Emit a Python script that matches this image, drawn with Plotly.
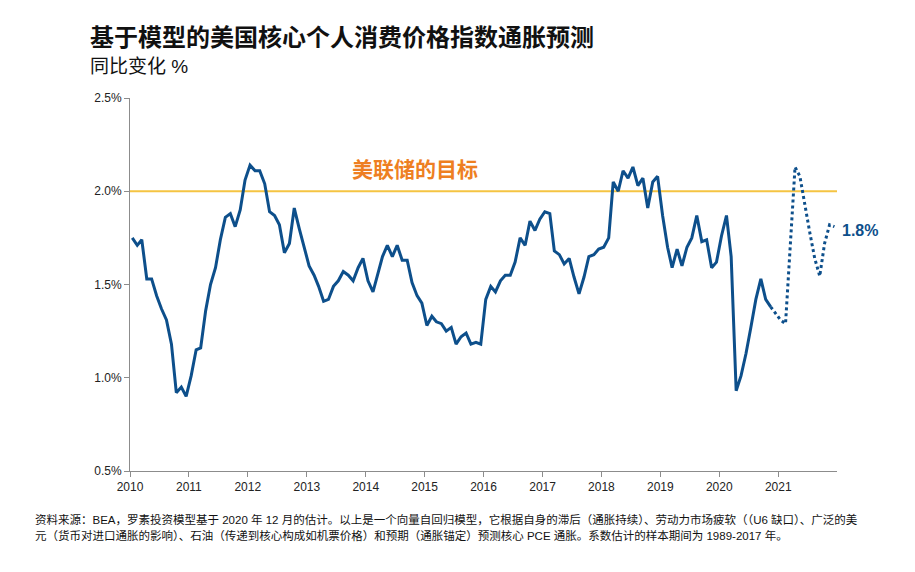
import pandas as pd
import plotly.graph_objects as go

# ---- data ----
months = pd.date_range("2010-01-01", periods=144, freq="MS") + pd.Timedelta(days=14)
month_labels = [d.strftime("%Y-%m-%d") for d in months]

actual = [
    1.75, 1.71, 1.74, 1.53, 1.53, 1.44, 1.37, 1.31, 1.18, 0.92, 0.95, 0.90,   # 2010
    1.01, 1.15, 1.16, 1.36, 1.50, 1.59, 1.74, 1.86, 1.88, 1.81, 1.90, 2.06,   # 2011
    2.14, 2.11, 2.11, 2.04, 1.89, 1.87, 1.82, 1.67, 1.72, 1.91, 1.80, 1.70,   # 2012
    1.60, 1.55, 1.49, 1.41, 1.42, 1.49, 1.52, 1.57, 1.55, 1.52, 1.59, 1.64,   # 2013
    1.52, 1.46, 1.55, 1.65, 1.71, 1.65, 1.71, 1.63, 1.63, 1.51, 1.44, 1.40,   # 2014
    1.28, 1.33, 1.30, 1.29, 1.25, 1.27, 1.18, 1.22, 1.24, 1.18, 1.19, 1.18,   # 2015
    1.42, 1.49, 1.46, 1.52, 1.55, 1.55, 1.62, 1.75, 1.71, 1.84, 1.79, 1.85,   # 2016
    1.89, 1.88, 1.68, 1.66, 1.61, 1.64, 1.54, 1.45, 1.54, 1.65, 1.66, 1.69,   # 2017
    1.70, 1.75, 2.05, 2.00, 2.11, 2.07, 2.13, 2.03, 2.07, 1.91, 2.05, 2.08,   # 2018
    1.87, 1.70, 1.59, 1.69, 1.60, 1.70, 1.75, 1.87, 1.73, 1.74, 1.59, 1.62,   # 2019
    1.76, 1.87, 1.65, 0.93, 1.01, 1.13, 1.27, 1.42, 1.53, 1.42, 1.38,         # 2020 (Jan-Nov)
]
# forecast starts at the last actual month (Nov 2020) and runs to Dec 2021
forecast = [1.38, 1.345, 1.31, 1.29, 1.71, 2.13, 2.08, 1.92, 1.78, 1.64, 1.545, 1.72, 1.82, 1.81]

fed_target = 2.0
target_label = "美联储的目标"
end_label = "1.8%"
y_ticks = [0.5, 1.0, 1.5, 2.0, 2.5]
y_tick_text = ["0.5%", "1.0%", "1.5%", "2.0%", "2.5%"]

title = "基于模型的美国核心个人消费价格指数通胀预测"
subtitle = "同比变化 %"
footnote1 = "资料来源：BEA，罗素投资模型基于 2020 年 12 月的估计。以上是一个向量自回归模型，它根据自身的滞后（通胀持续）、劳动力市场疲软（（U6 缺口）、广泛的美"
footnote2 = "元（货币对进口通胀的影响）、石油（传递到核心构成如机票价格）和预期（通胀锚定）预测核心 PCE 通胀。系数估计的样本期间为 1989-2017 年。"

# ---- figure ----
BLUE = "#0d4f8b"
GOLD = "#f5c443"
ORANGE = "#ee7f22"
FONT = "Liberation Sans, Arial, Noto Sans CJK SC, sans-serif"

n_act = len(actual)
x_act = month_labels[:n_act]
x_fc = month_labels[n_act - 1:n_act - 1 + len(forecast)]

fig = go.Figure()
fig.add_trace(go.Scatter(x=x_act, y=actual, mode="lines",
                         line=dict(color=BLUE, width=3), hoverinfo="skip"))
fig.add_trace(go.Scatter(x=x_fc, y=forecast, mode="lines",
                         line=dict(color=BLUE, width=3, dash="3px,3px"), hoverinfo="skip"))

fig.add_shape(type="line", xref="paper", x0=0, x1=1, yref="y", y0=fed_target, y1=fed_target,
              line=dict(color=GOLD, width=2), layer="below")

OFF = 8  # page body margin
W, H = 907, 564
L, T = 130 - OFF, 98 - OFF
R = W - (837 - OFF)
B = H - (471 - OFF)
pw, ph = W - L - R, H - T - B

def px(xs):
    return (xs - OFF - L) / pw

def py(ys):
    return (H - B - (ys - OFF)) / ph

fig.add_annotation(x=px(415), y=py(169), xref="paper", yref="paper", text="<b>%s</b>" % target_label,
                   showarrow=False, xanchor="center", yanchor="middle",
                   font=dict(family=FONT, size=21, color=ORANGE))
fig.add_annotation(x=px(840), y=py(230), xref="paper", yref="paper", text="<b>%s</b>" % end_label,
                   showarrow=False, xanchor="left", yanchor="middle",
                   font=dict(family=FONT, size=16, color=BLUE))

fig.add_annotation(x=px(88), y=py(38), xref="paper", yref="paper", text="<b>%s</b>" % title,
                   showarrow=False, xanchor="left", yanchor="middle",
                   font=dict(family=FONT, size=24, color="#111111"))
fig.add_annotation(x=px(88), y=py(67), xref="paper", yref="paper", text=subtitle,
                   showarrow=False, xanchor="left", yanchor="middle",
                   font=dict(family=FONT, size=19, color="#111111"))
fig.add_annotation(x=px(33), y=py(519), xref="paper", yref="paper", text=footnote1,
                   showarrow=False, xanchor="left", yanchor="middle",
                   font=dict(family=FONT, size=11.5, color="#111111"))
fig.add_annotation(x=px(33), y=py(535), xref="paper", yref="paper", text=footnote2,
                   showarrow=False, xanchor="left", yanchor="middle",
                   font=dict(family=FONT, size=11.5, color="#111111"))

fig.update_layout(
    width=W, height=H,
    margin=dict(l=L, r=R, t=T, b=B, autoexpand=False),
    paper_bgcolor="white", plot_bgcolor="white",
    showlegend=False,
    font=dict(family=FONT, size=12, color="#333333"),
    xaxis=dict(type="date", range=["2010-01-01", "2021-12-31"], dtick="M12", tick0="2010-01-01",
               tickformat="%Y", showgrid=False, zeroline=False, showline=True,
               linecolor="#8c8c8c", linewidth=1, ticks="outside", ticklen=5, tickcolor="#8c8c8c",
               tickfont=dict(size=12, color="#222222")),
    yaxis=dict(range=[0.5, 2.5], tickvals=y_ticks, ticktext=y_tick_text,
               showgrid=False, zeroline=False, showline=True, linecolor="#8c8c8c", linewidth=1,
               ticks="outside", ticklen=5, tickcolor="#8c8c8c",
               tickfont=dict(size=12, color="#222222")),
)

fig.write_html("out.html")
